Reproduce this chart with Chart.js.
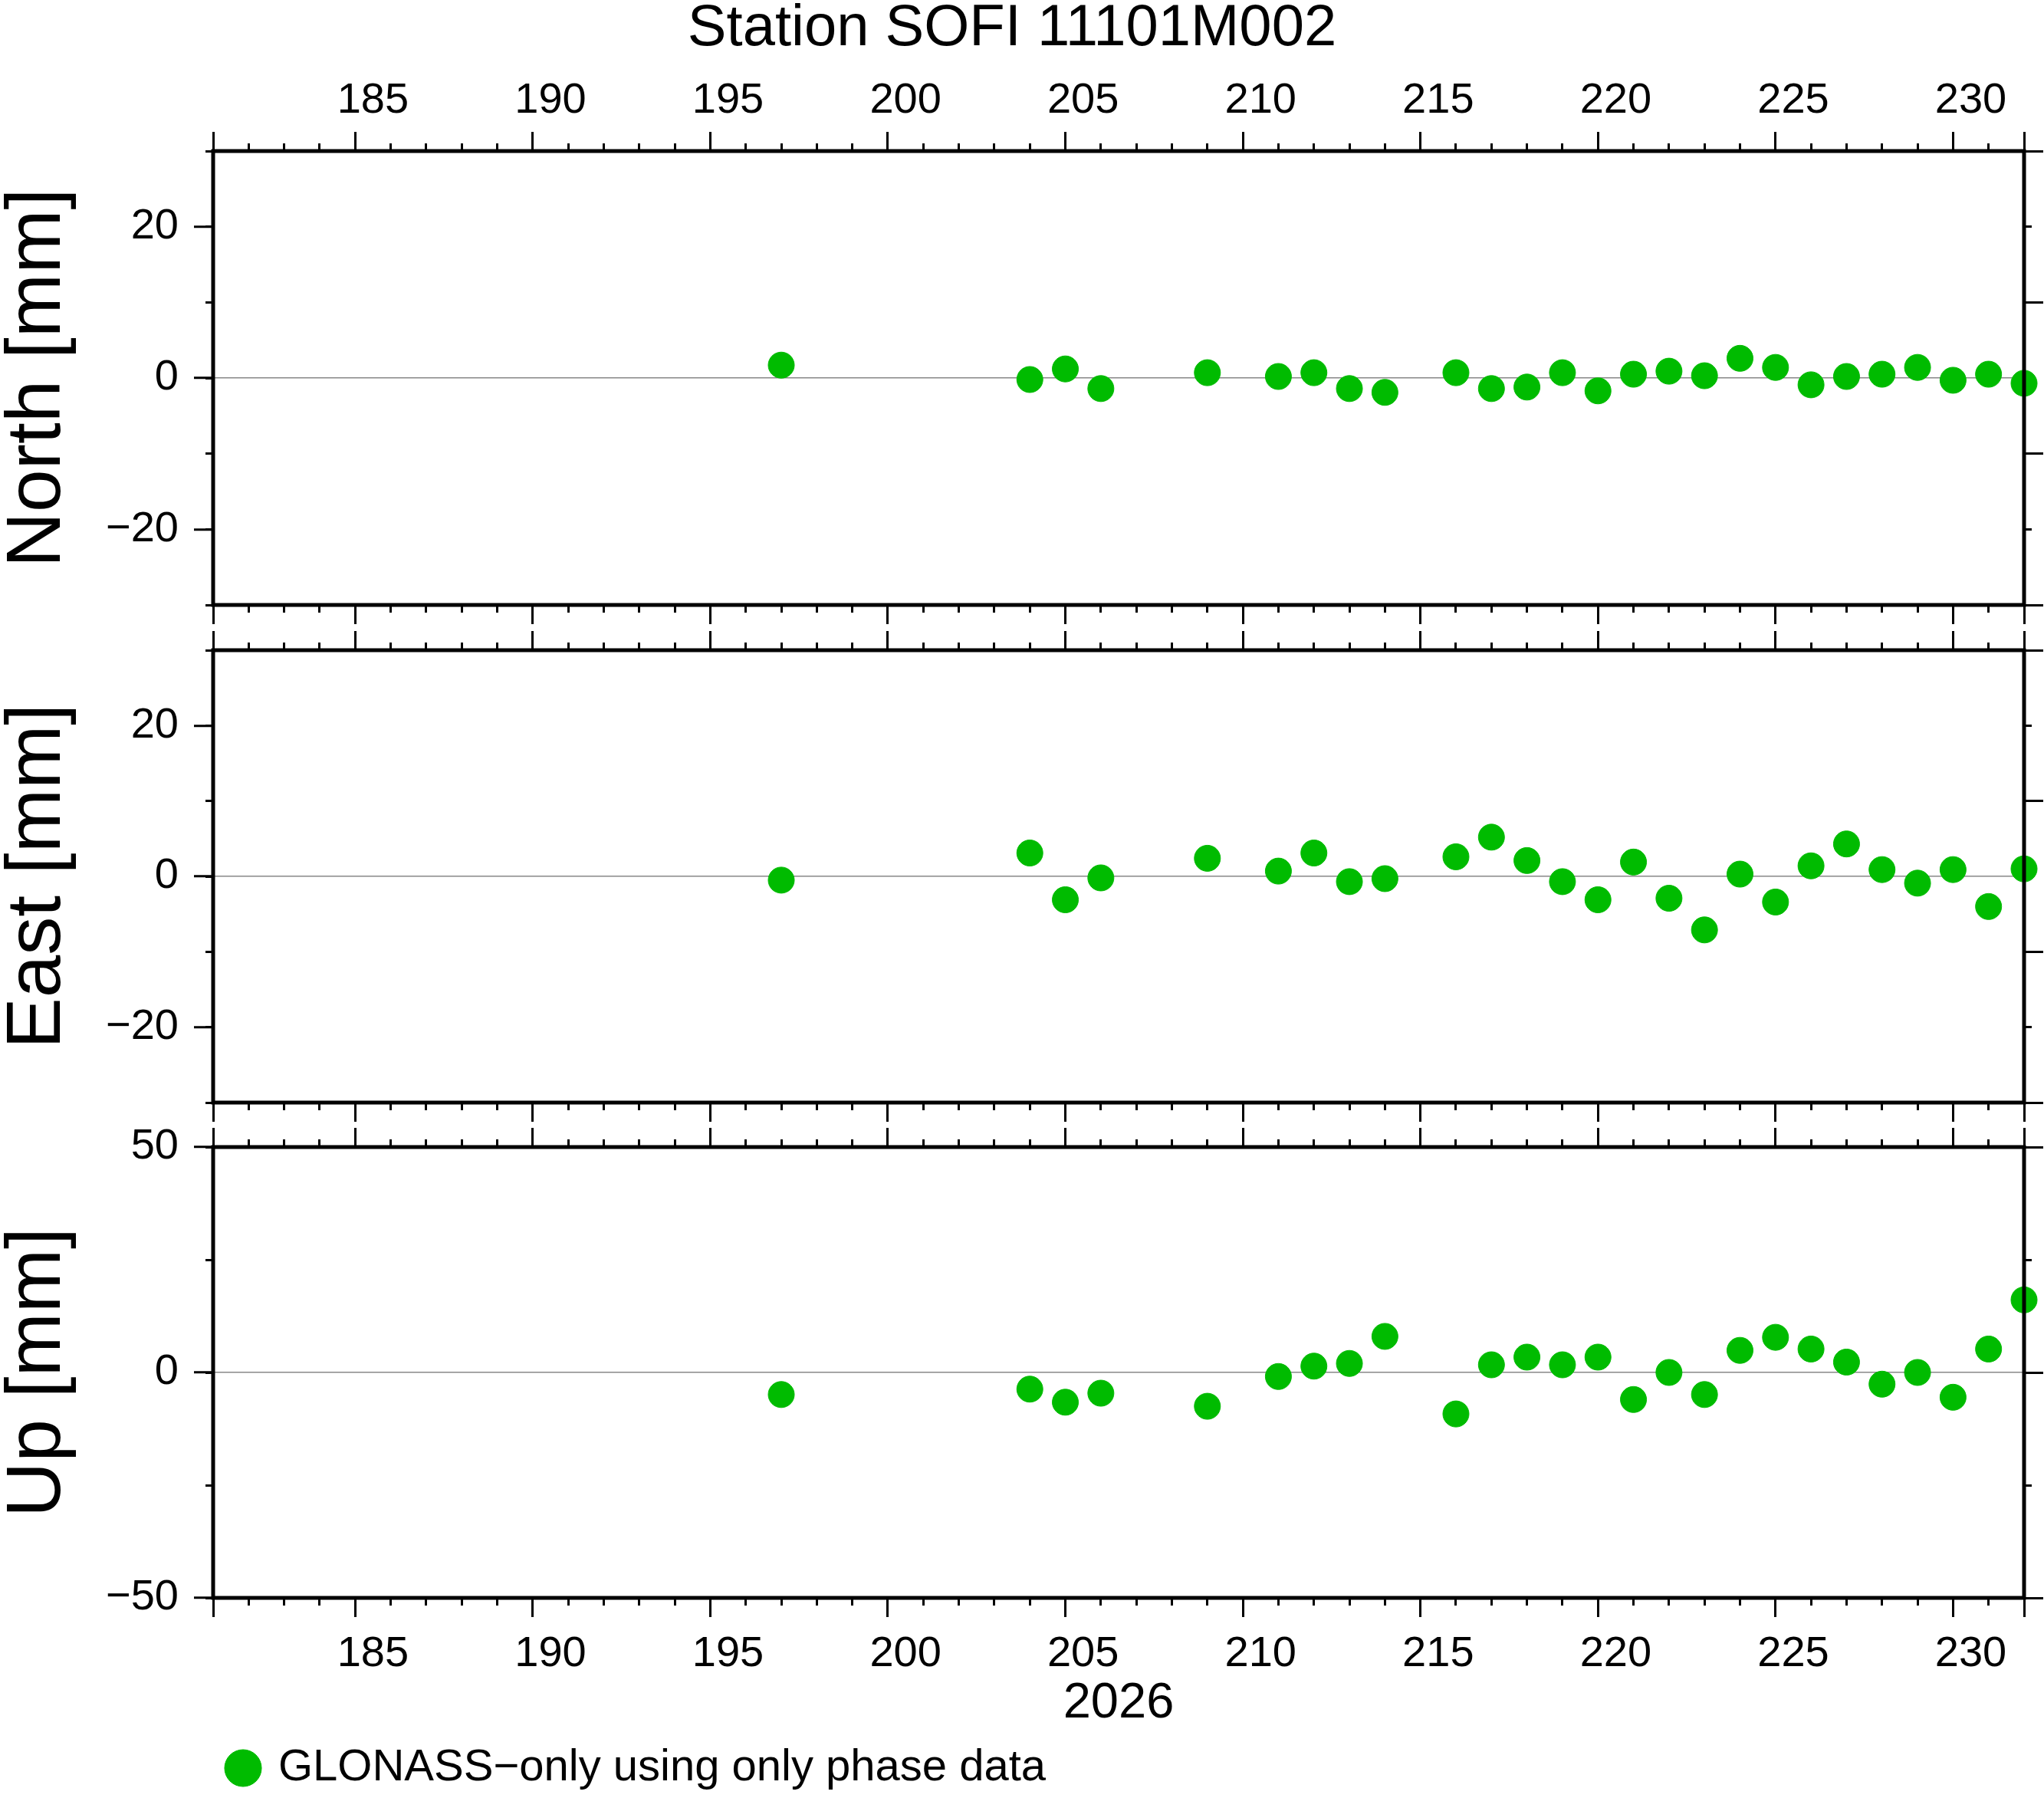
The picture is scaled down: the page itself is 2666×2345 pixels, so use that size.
<!DOCTYPE html>
<html>
<head>
<meta charset="utf-8">
<script src="https://cdn.jsdelivr.net/npm/chart.js@4.4.1/dist/chart.umd.min.js"></script>
<style>
  body { margin: 0; background: #fff; }
  canvas { position: absolute; left: 0; }
</style>
</head>
<body>
<canvas id="north" style="top:0px"></canvas>
<canvas id="east" style="top:818px"></canvas>
<canvas id="up" style="top:1468px"></canvas>
<script>
//-----------Data-----------
const days = [197, 204, 205, 206, 209, 211, 212, 213, 214, 216, 217, 218, 219, 220, 221, 222, 223, 224, 225, 226, 227, 228, 229, 230, 231, 232];
const northValues = [1.7, -0.2, 1.2, -1.4, 0.7, 0.2, 0.7, -1.4, -1.9, 0.7, -1.4, -1.2, 0.7, -1.7, 0.5, 0.9, 0.3, 2.6, 1.4, -0.9, 0.2, 0.5, 1.4, -0.3, 0.5, -0.7];
const eastValues = [-0.5, 3.1, -3.1, -0.2, 2.4, 0.7, 3.1, -0.7, -0.3, 2.6, 5.2, 2.1, -0.7, -3.1, 1.9, -2.9, -7.1, 0.3, -3.4, 1.4, 4.3, 0.9, -0.9, 0.9, -4.0, 1.0];
const upValues = [-4.9, -3.7, -6.6, -4.6, -7.5, -0.9, 1.4, 2.0, 8.0, -9.2, 1.7, 3.4, 1.7, 3.4, -6.0, 0.0, -4.9, 4.9, 7.8, 5.2, 2.3, -2.6, 0.0, -5.5, 5.2, 16.1];
const dayTicks = [185, 190, 195, 200, 205, 210, 215, 220, 225, 230];
const neTicks = [-20, 0, 20];
const upTicks = [-50, 0, 50];
const seriesLabel = "GLONASS\u2212only using only phase data";
const titleText = "Station SOFI 11101M002";
const yearLabel = "2026";

const FONT = "'Liberation Sans', Arial, sans-serif";
const GREEN = "#00bb00";
const W = 2666;

function zeroH(s) { s.height = 0; s.paddingLeft = 0; s.paddingRight = 0; }
function zeroW(s) { s.width = 0; s.paddingTop = 0; s.paddingBottom = 0; }

// tick-only x axis (minor = every day, major = every 5)
function xTickAxis(pos, step, len) {
  return {
    type: 'linear', position: pos, min: 181, max: 232, weight: 0,
    afterFit: zeroH,
    border: { display: false },
    grid: { drawOnChartArea: false, tickLength: len, tickWidth: 3, color: '#000' },
    ticks: { stepSize: step, display: false }
  };
}

// label axis shifted half a day so labels sit in the middle of the day
function xLabelAxis(pos, h, titleOn) {
  return {
    type: 'linear', position: pos, min: 180.5, max: 231.5, weight: 2,
    afterFit: s => { s.height = h; s.paddingLeft = 0; s.paddingRight = 0; },
    afterBuildTicks: s => { s.ticks = dayTicks.map(v => ({ value: v })); },
    border: { display: false },
    grid: { display: false, drawTicks: false },
    ticks: { color: '#000', font: { family: FONT, size: 56 }, padding: pos === 'top' ? 32 : 40, maxRotation: 0, autoSkip: false },
    title: { display: titleOn, text: yearLabel, color: '#000', font: { family: FONT, size: 65, lineHeight: 1 }, padding: 0 }
  };
}

function yTickAxis(pos, min, max, step, len) {
  return {
    type: 'linear', position: pos, min: min, max: max, weight: 0,
    afterFit: zeroW,
    border: { display: false },
    grid: { drawOnChartArea: false, tickLength: len, tickWidth: 3, color: '#000' },
    ticks: { stepSize: step, display: false }
  };
}

function makePanel(id, height, values, yMin, yMax, labelTicks, name, opts) {
  const canvas = document.getElementById(id);
  canvas.width = W; canvas.height = height;
  canvas.style.width = W + 'px'; canvas.style.height = height + 'px';
  const minorStep = (labelTicks[1] - labelTicks[0]) / 2;

  const scales = {
    x: xTickAxis('bottom', 1, 10),
    xMajB: xTickAxis('bottom', 5, 25),
    xMinT: xTickAxis('top', 1, 10),
    xMajT: xTickAxis('top', 5, 25),
    y: {
      type: 'linear', position: 'left', min: yMin, max: yMax, weight: 2,
      afterFit: s => { s.width = 278; s.paddingTop = 0; s.paddingBottom = 0; },
      afterBuildTicks: s => { s.ticks = labelTicks.map(v => ({ value: v })); },
      border: { display: false },
      grid: {
        tickLength: 25, tickWidth: 3,
        color: ctx => ctx.tick && ctx.tick.value === 0 ? '#888' : 'rgba(0,0,0,0)',
        tickColor: '#000', lineWidth: 1.5
      },
      ticks: {
        padding: 20, color: '#000',
        font: { family: FONT, size: 56 },
        callback: v => (v < 0 ? '\u2212' + Math.abs(v) : String(v))
      },
      title: { display: true, text: name, color: '#000', font: { family: FONT, size: 100, lineHeight: 1 }, padding: 0 }
    },
    yMinL: yTickAxis('left', yMin, yMax, minorStep, 10),
    yMinR: yTickAxis('right', yMin, yMax, minorStep, 10),
    yMajR: yTickAxis('right', yMin, yMax, minorStep * 2, 25)
  };
  if (opts.topLabels) scales.xLabT = xLabelAxis('top', 121, false);
  if (opts.bottomLabels) scales.xLabB = xLabelAxis('bottom', 171, true);

  return new Chart(canvas.getContext('2d'), {
    type: 'scatter',
    data: {
      datasets: [{
        label: seriesLabel,
        data: days.map((d, i) => ({ x: d, y: values[i] })),
        backgroundColor: GREEN, borderColor: GREEN,
        pointRadius: 17, pointHoverRadius: 17, pointStyle: 'circle'
      }]
    },
    options: {
      responsive: false, animation: false, devicePixelRatio: 1,
      clip: false,
      layout: { padding: opts.padding },
      scales: scales,
      plugins: {
        legend: opts.legend ? {
          display: true, position: 'bottom', align: 'start', fullSize: false,
          labels: { usePointStyle: true, pointStyle: 'circle', boxWidth: 34, boxHeight: 34, padding: 22, color: '#000', font: { family: FONT, size: 58 } }
        } : { display: false },
        title: opts.title ? {
          display: true, text: titleText, color: '#000',
          font: { family: FONT, size: 76, weight: 'normal', lineHeight: 1 }, padding: 0
        } : { display: false },
        tooltip: { enabled: false }
      }
    },
    plugins: [{
      // frame around the plot area
      id: 'frame',
      afterDraw(chart) {
        const a = chart.chartArea, c = chart.ctx;
        c.save(); c.strokeStyle = '#000'; c.lineWidth = 5;
        c.strokeRect(a.left, a.top, a.right - a.left, a.bottom - a.top);
        c.restore();
      }
    }]
  });
}

makePanel('north', 818, northValues, -30, 30, neTicks, 'North [mm]',
  { topLabels: true, title: true, padding: { top: 0, bottom: 29, right: 26, left: 0 } });
makePanel('east', 650, eastValues, -30, 30, neTicks, 'East [mm]',
  { padding: { top: 30, bottom: 30, right: 26, left: 0 } });
makePanel('up', 877, upValues, -50, 50, upTicks, 'Up [mm]',
  { bottomLabels: true, legend: true, padding: { top: 28, bottom: 0, right: 26, left: 0 } });
</script>
</body>
</html>
